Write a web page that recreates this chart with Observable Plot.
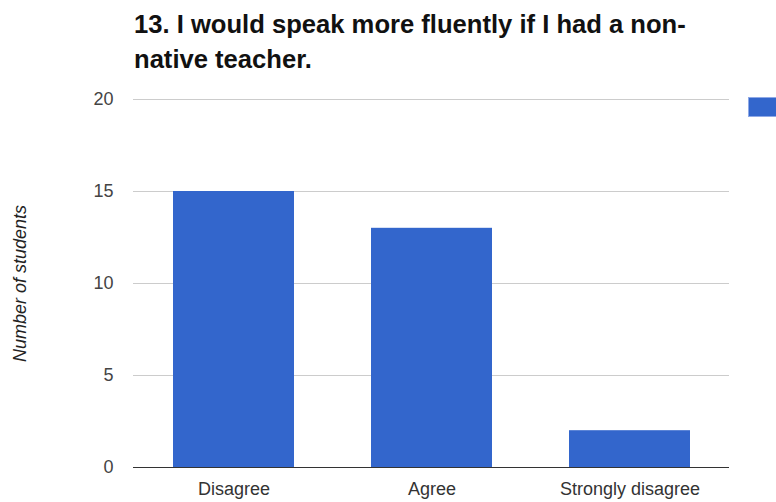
<!DOCTYPE html>
<html>
<head>
<meta charset="utf-8">
<script src="https://cdn.jsdelivr.net/npm/d3@7"></script>
<script src="https://cdn.jsdelivr.net/npm/@observablehq/plot@0.6"></script>
<style>
  html, body { margin: 0; padding: 0; background: #fff; }
  #wrap { position: relative; width: 776px; height: 502px; overflow: hidden; font-family: "Liberation Sans", Arial, sans-serif; }
  #title { position: absolute; left: 134px; top: 7px; font-size: 25.6px; font-weight: bold; color: #111; line-height: 35px; white-space: nowrap; }
  #chart { position: absolute; left: 0; top: 85px; }
  #legend { position: absolute; left: 748px; top: 97px; }
  #legend .sw { width: 30px; height: 20px; background: #3366cc; border: 1px solid #8fa9e6; box-sizing: border-box; }
</style>
</head>
<body>
<div id="wrap">
  <div id="title"></div>
  <div id="chart"></div>
  <div id="legend"><div class="sw"></div></div>
</div>
<script>
const titleLines = ["13. I would speak more fluently if I had a non-", "native teacher."];
const categories = ["Disagree", "Agree", "Strongly disagree"];
const counts = [15, 13, 2];
const yTicks = [0, 5, 10, 15, 20];
const yLabel = "Number of students";
const barColor = "#3366cc";

document.getElementById("title").innerHTML = titleLines.join("<br>");

const data = categories.map((c, i) => ({category: c, value: counts[i]}));

const plot = Plot.plot({
  width: 776,
  height: 417,
  marginTop: 14,
  marginBottom: 35,
  marginLeft: 133,
  marginRight: 47,
  style: {fontFamily: "'Liberation Sans', Arial, sans-serif", background: "#fff"},
  x: {domain: categories, paddingInner: 0.39, paddingOuter: 0.195, label: null},
  y: {domain: [0, 20], label: null},
  marks: [
    Plot.gridY(yTicks, {stroke: "#cccccc", strokeOpacity: 1}),
    Plot.barY(data, {x: "category", y: "value", fill: barColor}),
    Plot.ruleY([0], {stroke: "#333", strokeWidth: 1}),
    Plot.axisY(yTicks, {tickSize: 0, tickPadding: 20, fontSize: 18, fill: "#444", label: null}),
    Plot.axisX({tickSize: 0, tickPadding: 15, fontSize: 18, fill: "#333", label: null}),
    Plot.text([yLabel], {frameAnchor: "left", textAnchor: "middle", dx: -113, rotate: -90, fontSize: 18, fontStyle: "italic", fill: "#222"})
  ]
});
document.getElementById("chart").appendChild(plot);
</script>
</body>
</html>
